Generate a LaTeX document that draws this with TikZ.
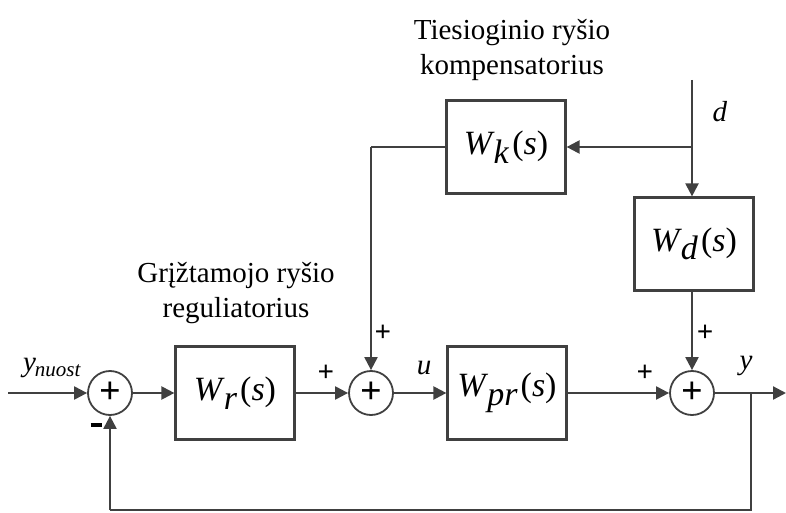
\documentclass[tikz,border=0pt]{standalone}
\usepackage{fontspec}
\setmainfont{Liberation Serif}
\usetikzlibrary{arrows.meta,positioning,shapes}

\newcommand{\tfunc}[1]{\textit{W}\kern-1pt\raisebox{-.55ex}{\textit{#1}}\kern3pt(\textit{s})}

\begin{document}
\begin{tikzpicture}[x = 1pt, y = -1pt, every node/.style={anchor = center, font = \fontsize{29}{35}\selectfont},
  blk/.style={draw = black!75, line width = 2.2pt, minimum width = 119pt, minimum height = 93pt, font = \fontsize{34}{34}\selectfont},
  sumnode/.style={draw = black!75, circle, line width = 1.8pt, minimum size = 44pt, inner sep = 0pt, font = \bfseries\fontsize{38}{38}\selectfont},
  sig/.style={draw = black!75, line width = 2.2pt, -{Triangle[length = 13pt, width = 13pt]}},
  lin/.style={draw = black!75, line width = 2.2pt},
  sgn/.style={font = \bfseries\fontsize{29}{29}\selectfont}]
\useasboundingbox (0,0) rectangle (786,513);
% main path
\coordinate (in) at (8,393);
\node[sumnode] (sumA) at (110,393) {+};
\node[blk] (wr) at (235,393) {\tfunc{r}};
\node[sumnode] (sumB) at (371,393) {+};
\node[blk] (wpr) at (507,393) {\tfunc{pr}};
\node[sumnode] (sumC) at (692,393) {+};
\coordinate (br) at (751,393);
\coordinate (out) at (786,393);
% upper blocks
\node[blk] (wk) at (506,147) {\tfunc{k}};
\node[blk] (wd) at (694,244) {\tfunc{d}};
\coordinate (dtop) at (692,80);
\coordinate (dsplit) at (692,147);
\coordinate (kturn) at (371,147);
\coordinate (fbr) at (751,510);
\coordinate (fbl) at (110,510);
% connectors
\draw[sig] (in) -- (sumA);
\draw[sig] (sumA) -- (wr);
\draw[sig] (wr) -- (sumB);
\draw[sig] (sumB) -- (wpr);
\draw[sig] (wpr) -- (sumC);
\draw[sig] (sumC) -- (out);
\draw[lin] (br) -- (fbr) -- (fbl);
\draw[sig] (fbl) -- (sumA);
\draw[lin] (dtop) -- (dsplit);
\draw[sig] (dsplit) -- (wd.north -| dsplit);
\draw[sig] (dsplit) -- (wk);
\draw[lin] (wk) -- (kturn);
\draw[sig] (kturn) -- (sumB);
\draw[sig] (wd.south -| sumC) -- (sumC);
% labels
\node[align = center] (ttl) at (512,50) {Tiesioginio ryšio\\kompensatorius};
\node[align = center] (reg) at (236,293) {Grįžtamojo ryšio\\reguliatorius};
\node (lyn) at (52,368) {\textit{y}\kern-1pt\raisebox{-.4ex}{\fontsize{21}{21}\selectfont\textit{nuost}}};
\node (lu) at (424,368) {\textit{u}};
\node (ly) at (746,366) {\textit{y}};
\node (ld) at (720,112) {\textit{d}};
\node (mA) at (96,425) {\rule{11pt}{3.5pt}};
\node[sgn] (pB1) at (326,373) {+};
\node[sgn] (pB2) at (383,333) {+};
\node[sgn] (pC1) at (645,373) {+};
\node[sgn] (pC2) at (705,333) {+};
\end{tikzpicture}
\end{document}
